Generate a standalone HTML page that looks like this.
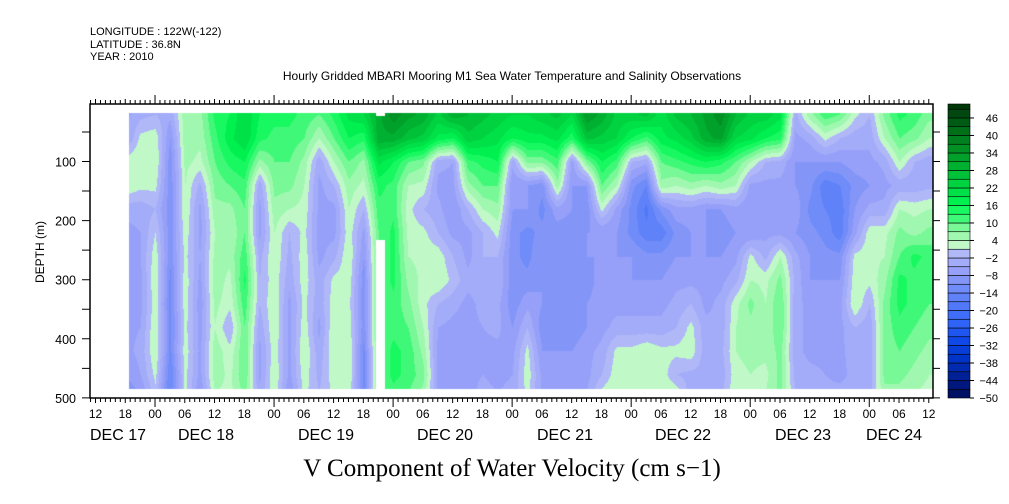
<!DOCTYPE html>
<html><head><meta charset="utf-8">
<style>
body{margin:0;background:#fff;width:1009px;height:504px;overflow:hidden;position:relative;font-family:"Liberation Sans",sans-serif;}
#plot{position:absolute;left:0;top:0;}
</style></head>
<body>
<canvas id="heat" width="1009" height="504" style="position:absolute;left:0;top:0"></canvas>
<svg id="plot" width="1009" height="504"></svg>
<script>
// time (hours from DEC 17 00:00) of each column
const times = [];
for (let k = 0; k <= 54; k++) times.push(18 + 3 * k);
const depths = [20,60,100,140,180,220,260,300,340,380,420,460,490];
const values = [
[-6,-6,3,4,-4,-6,-6,-8,-6,-6,-6,-8,-10],
[-3,2,4,2,-4,-5,-5,-6,-6,-5,-4,-5,-8],
[-2,3,4,2,-2,1,3,4,3,4,4,2,0],
[-4,-8,-10,-10,-10,-10,-10,-12,-12,-12,-12,-14,-14],
[6,6,5,4,4,3,2,3,3,2,3,2,2],
[6,5,3,-3,-6,-6,-5,-6,-7,-6,-6,-6,-8],
[14,12,10,8,6,4,5,6,5,4,6,6,4],
[16,18,14,10,6,4,5,3,2,-2,2,3,3],
[22,22,16,12,10,10,12,14,12,10,10,10,8],
[16,14,6,-4,-6,-6,-3,-2,-2,-4,-6,-6,-4],
[14,12,10,8,6,4,4,3,4,4,3,4,3],
[14,12,10,8,4,-2,-3,-4,-6,-6,-6,-6,-8],
[12,10,6,4,3,2,3,3,2,3,4,3,2],
[10,4,-4,-6,-6,-6,-6,-4,-4,-6,-4,-3,-2],
[14,10,4,-2,-6,-6,-3,2,3,4,4,3,2],
[20,16,10,6,4,3,4,3,2,3,4,4,3],
[22,14,6,3,-2,-6,-8,-10,-10,-10,-12,-12,-12],
[30,30,20,14,12,10,10,10,10,10,10,10,10],
[36,30,16,12,12,14,14,14,12,12,14,14,12],
[32,26,10,4,2,3,4,6,8,10,12,12,10],
[30,24,8,3,-2,2,3,3,2,4,6,8,6],
[24,18,-4,-6,-4,-2,3,4,-2,-5,-6,-6,-6],
[30,16,-5,-6,-8,-6,-2,0,-4,-6,-6,-6,-5],
[28,24,12,6,-2,-6,-6,-4,-6,-6,-8,-6,-6],
[26,22,14,10,4,-2,-2,-3,-4,-5,-6,-5,-4],
[24,20,16,10,6,2,-2,-2,-4,-4,-6,-6,-5],
[22,16,-4,-8,-8,-10,-10,-10,-10,-8,-6,-5,-4],
[22,18,8,-8,-8,-12,-12,-10,-6,-2,2,3,2],
[24,18,8,-10,-12,-10,-8,-8,-8,-10,-8,-6,-6],
[26,20,12,6,-6,-10,-10,-10,-10,-10,-8,-6,-6],
[22,14,-6,-8,-8,-10,-10,-10,-8,-10,-8,-6,-6],
[34,26,8,-8,-10,-8,-8,-10,-8,-8,-6,-6,-5],
[30,24,16,10,2,-8,-8,-6,-6,-6,-4,-2,2],
[24,22,12,4,-6,-8,-8,-8,-6,-4,2,3,4],
[24,16,-2,-10,-12,-12,-8,-8,-6,-4,2,4,3],
[26,12,-4,-14,-18,-16,-10,-8,-6,-4,4,4,3],
[20,18,10,6,-10,-16,-10,-8,-6,-4,2,3,4],
[26,20,12,4,-6,-10,-8,-6,-4,-2,2,-2,3],
[28,24,14,6,-6,-8,-8,-6,-2,2,3,-3,-4],
[32,30,16,4,-8,-8,-8,-6,-6,-4,-4,-3,-2],
[36,32,14,6,-8,-10,-8,-6,-4,-4,-3,-4,-3],
[28,22,10,4,-6,-8,-6,-3,3,4,4,3,4],
[24,20,4,-6,-8,-8,2,4,8,6,5,4,4],
[24,16,-2,-6,-8,-6,-3,3,4,4,5,3,4],
[20,14,-3,-6,-6,-6,4,8,10,10,8,8,8],
[-3,-6,-8,-8,-6,-8,-4,-3,-4,-4,-4,-3,-2],
[6,-4,-8,-10,-12,-10,-8,-8,-6,-6,-6,-4,-4],
[12,2,-8,-16,-14,-12,-10,-8,-6,-6,-6,-5,-4],
[10,-2,-8,-14,-16,-16,-10,-8,-6,-6,-6,-6,-4],
[2,-4,-6,-10,-8,-6,2,3,4,-2,-3,-4,-3],
[-2,-4,-6,-8,-4,3,3,2,-2,-4,-4,-4,-3],
[8,4,-4,-6,-4,3,4,6,8,8,8,8,6],
[14,10,4,-4,4,8,10,14,14,12,10,8,6],
[12,8,-2,-4,3,6,14,12,12,10,8,6,4],
[8,4,-4,-3,4,8,12,10,10,8,6,4,3]
];
const depthTicks = [100,200,300,400,500];
const cbLabels = [46,40,34,28,22,16,10,4,-2,-8,-14,-20,-26,-32,-38,-44,-50];
const hourLabels = ["12","18","00","06","12","18","00","06","12","18","00","06","12","18","00","06","12","18","00","06","12","18","00","06","12","18","00","06","12"];
const dayLabels = ["DEC 17","DEC 18","DEC 19","DEC 20","DEC 21","DEC 22","DEC 23","DEC 24"];

// axis functions
const L=90,R=933,T=104,B=398;
const xT = t => 95.5 + (t-12)*4.96;
const yD = d => 102.4 + d*0.591;
const stops=[[-48.5,[0,16,100]],[-42.5,[0,32,150]],[-36.5,[0,52,200]],[-30.5,[16,72,232]],[-24.5,[48,100,248]],[-18.5,[80,120,248]],[-12.5,[112,140,248]],[-6.5,[150,160,248]],[-0.5,[176,184,248]],[2.5,[192,248,200]],[5.5,[160,248,176]],[8.5,[120,248,150]],[11.5,[64,248,120]],[14.5,[24,248,96]],[17.5,[0,240,80]],[23.5,[0,210,64]],[29.5,[0,176,48]],[35.5,[0,144,36]],[41.5,[0,112,24]],[47.5,[0,72,16]],[50.5,[0,56,8]]];
function col(v){
  v=Math.max(-50,Math.min(51.9,v));
  const q=Math.floor((v+50)/3)*3-50+1.5;
  if(q<=stops[0][0])return stops[0][1];
  for(let i=0;i<stops.length-1;i++){
    const a=stops[i],b=stops[i+1];
    if(q>=a[0]&&q<=b[0]){const f=(q-a[0])/(b[0]-a[0]);return a[1].map((c,j)=>Math.round(c+(b[1][j]-c)*f));}
  }
  return stops[stops.length-1][1];
}
// heatmap
const cv=document.getElementById('heat'),ctx=cv.getContext('2d');
const x0=129,x1=933,y0=113,y1=389;
const img=ctx.createImageData(x1-x0,y1-y0);
const tx=times.map(xT), dy=depths.map(yD);
for(let py=y0;py<y1;py++){
  let j=0;while(j<dy.length-2&&py>dy[j+1])j++;
  let fy=(py-dy[j])/(dy[j+1]-dy[j]);fy=Math.max(0,Math.min(1,fy));
  for(let px=x0;px<x1;px++){
    let i=0;while(i<tx.length-2&&px>tx[i+1])i++;
    let fx=(px-tx[i])/(tx[i+1]-tx[i]);fx=Math.max(0,Math.min(1,fx));
    const v=(values[i][j]*(1-fx)+values[i+1][j]*fx)*(1-fy)+(values[i][j+1]*(1-fx)+values[i+1][j+1]*fx)*fy;
    const c=col(v);const o=((py-y0)*(x1-x0)+(px-x0))*4;
    img.data[o]=c[0];img.data[o+1]=c[1];img.data[o+2]=c[2];img.data[o+3]=255;
  }
}
ctx.putImageData(img,x0,y0);
ctx.fillStyle='#fff';ctx.fillRect(376,240,9,149);ctx.fillRect(376,113,9,3);

const NS='http://www.w3.org/2000/svg',svg=document.getElementById('plot');
function mk(tag,at,txt){const e=document.createElementNS(NS,tag);for(const k in at)e.setAttribute(k,at[k]);if(txt!==undefined)e.textContent=txt;svg.appendChild(e);return e;}
let e;
e=mk('rect',{x:L,y:T,width:R-L,height:B-T,fill:'none',stroke:'#000','stroke-width':1.5});


// time ticks
let p='';
for(let t=11;t<=180;t++){const x=xT(t);if(x<L||x>R)continue;const len=(t%24===0)?9:(t%6===0?5:4);p+=`M${x} ${T}V${T-len}M${x} ${B}V${B+len}`;}
for(let d=50;d<=500;d+=50){const y=yD(d);if(y<T)continue;p+=`M${L} ${y}H${L-8}M${R} ${y}H${R+7}`;}
e=mk('path',{d:p,stroke:'#000','stroke-width':1,fill:'none'});


depthTicks.forEach(d=>{e=mk('text',{x:76,y:yD(d)+5,'text-anchor':'end','font-size':12.5},d);

});
e=mk('text',{x:44,y:252,'text-anchor':'middle','font-size':12,transform:'rotate(-90 44 252)'},'DEPTH (m)');


hourLabels.forEach((h,i)=>{e=mk('text',{x:xT(12+6*i),y:418,'text-anchor':'middle','font-size':12},h);

});
const dayX=[90,178,298,417,537,655,775,866];
dayLabels.forEach((d,i)=>{e=mk('text',{x:dayX[i],y:440,'font-size':16},d);

});
[['LONGITUDE : 122W(-122)',35],['LATITUDE : 36.8N',48],['YEAR : 2010',60]].forEach(a=>{e=mk('text',{x:90,y:a[1],'font-size':11},a[0]);

});
e=mk('text',{x:512,y:80,'text-anchor':'middle','font-size':12},'Hourly Gridded MBARI Mooring M1 Sea Water Temperature and Salinity Observations');


e=mk('text',{x:512,y:476,'text-anchor':'middle','font-size':25,'font-family':'Liberation Serif, serif'},'V Component of Water Velocity (cm s\u22121)');


// colorbar
const cy=v=>398-(v+50)*2.917;
for(let v=-50;v<50;v+=3){const ya=Math.max(104,cy(v+3));const c=col(v+1.5);
e=mk('rect',{x:948,y:ya,width:22,height:cy(v)-ya,fill:`rgb(${c})`,stroke:'#000','stroke-width':0.6});

}
cbLabels.forEach(v=>{e=mk('text',{x:998,y:cy(v)+4,'text-anchor':'end','font-size':11},String(v).replace('-','\u2212'));


mk('path',{d:`M970 ${cy(v)}H974`,stroke:'#000'});});
</script>
</body></html>
